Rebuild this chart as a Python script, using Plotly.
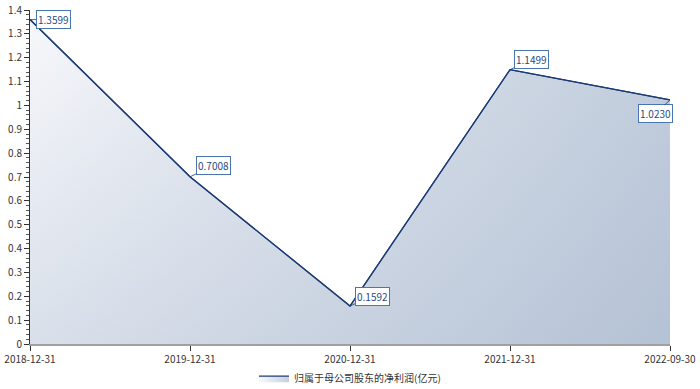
import plotly.graph_objects as go

categories = ["2018-12-31", "2019-12-31", "2020-12-31", "2021-12-31", "2022-09-30"]
values = [1.3599, 0.7008, 0.1592, 1.1499, 1.0230]
labels = ["1.3599", "0.7008", "0.1592", "1.1499", "1.0230"]
series_name = "归属于母公司股东的净利润(亿元)"
label_offsets = [(23, 0), (23, -11), (22, -10), (21, -10), (-15, 14)]

FONT = "Noto Sans CJK SC, Open Sans, sans-serif"
LINE = "#1c3b73"

fig = go.Figure()
fig.add_trace(go.Scatter(
    x=categories, y=values, mode="lines", name=series_name,
    line=dict(color=LINE, width=1.3),
    fill="tozeroy",
    fillgradient=dict(type="horizontal",
                      colorscale=[[0, "#f7f8fb"], [1, "#c4cfde"]]),
    showlegend=True,
))
fig.add_trace(go.Scatter(
    x=categories, y=values, mode="lines", showlegend=False,
    line=dict(color=LINE, width=1.3),
    fill="tozeroy",
    fillgradient=dict(type="vertical", start=1.4, stop=0,
                      colorscale=[[0, "rgba(140,160,190,0)"], [1, "rgba(140,160,190,0.28)"]]),
))

for c, v, t, (ax, ay) in zip(categories, values, labels, label_offsets):
    fig.add_annotation(
        x=c, y=v, text=t, showarrow=True, arrowhead=0, arrowwidth=0.8,
        arrowcolor=LINE, ax=ax, ay=ay,
        font=dict(family=FONT, size=10, color="#2a4a80"),
        bordercolor="#4a76b0", borderwidth=1, borderpad=1, bgcolor="white",
    )

fig.update_layout(
    width=700, height=389,
    margin=dict(l=30, r=30, t=10, b=45, autoexpand=False),
    paper_bgcolor="white", plot_bgcolor="white",
    font=dict(family=FONT, size=10, color="#333333"),
    legend=dict(orientation="h", x=0.5, xanchor="center", xref="container",
                y=0.065, yanchor="top", yref="container", bgcolor="rgba(0,0,0,0)",
                font=dict(family=FONT, size=10, color="#333333")),
    xaxis=dict(type="category", showgrid=False, showline=True, linecolor="#a0a0a0",
               linewidth=2, ticks="outside", ticklen=5, tickcolor="#333",
               range=[0, 4], zeroline=False, automargin=False),
    yaxis=dict(range=[0, 1.4], dtick=0.1, showgrid=False, showline=True,
               linecolor="#333", linewidth=1, ticks="outside", ticklen=5,
               tickcolor="#333", zeroline=False, automargin=False,
               minor=dict(dtick=0.02, ticks="outside", ticklen=3, tickcolor="#555")),
)

fig.write_html("out.html")
